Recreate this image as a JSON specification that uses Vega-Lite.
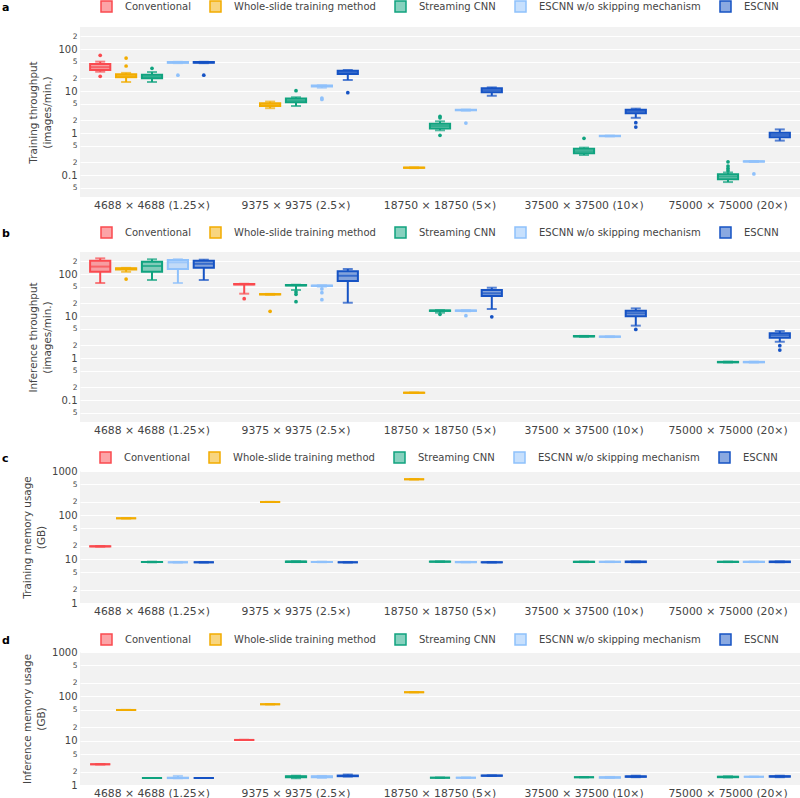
{
  "$schema": "https://vega.github.io/schema/vega-lite/v6.json",
  "padding": {"left": 2, "top": 0, "right": 0, "bottom": 0},
  "background": "white",
  "bounds": "flush",
  "spacing": 55,
  "resolve": {"scale": {"color": "shared", "stroke": "shared"}, "legend": {"color": "independent"}},
  "config": {
    "font": "DejaVu Sans",
    "view": {"fill": "#f2f2f2", "stroke": null},
    "axisX": {"labelFontSize": 10.8, "labelPadding": 2, "grid": false, "domain": false, "ticks": false, "labelColor": "#444", "labelAngle": 0, "title": null},
    "axisY": {"grid": true, "gridColor": "#ffffff", "gridWidth": 1, "domain": false, "ticks": false, "labelColor": "#444", "titleColor": "#444", "titleFontWeight": "normal", "titleFontSize": 10.4, "titlePadding": 5, "labelPadding": 3, "titleLineHeight": 14.5,
      "labelExpr": "abs(log(datum.value)/LN10 - round(log(datum.value)/LN10)) < 0.001 ? datum.value + '' : (abs(log(datum.value/2)/LN10 - round(log(datum.value/2)/LN10)) < 0.001 ? '2' : '5')",
      "labelFontSize": {"condition": {"test": "abs(log(datum.value)/LN10 - round(log(datum.value)/LN10)) < 0.001", "value": 10}, "value": 7.5}},
    "legend": {"labelFont": "DejaVu Sans", "titleFont": "DejaVu Sans"},
    "tick": {"thickness": 2},
    "rule": {"strokeWidth": 2}
  },
  "datasets": {
    "boxes": [
      {"p":"a","res":"4688 × 4688 (1.25×)","m":"Conventional","lo":28.8,"q1":31.6,"med":37,"q3":44,"hi":50},
      {"p":"a","res":"4688 × 4688 (1.25×)","m":"Whole-slide training method","lo":16.4,"q1":21.2,"med":23,"q3":25,"hi":27},
      {"p":"a","res":"4688 × 4688 (1.25×)","m":"Streaming CNN","lo":16.4,"q1":20.1,"med":22,"q3":24.4,"hi":28.3},
      {"p":"a","res":"4688 × 4688 (1.25×)","m":"ESCNN w/o skipping mechanism","lo":46,"q1":46.8,"med":48,"q3":49,"hi":49.5},
      {"p":"a","res":"4688 × 4688 (1.25×)","m":"ESCNN","lo":46,"q1":46.8,"med":48,"q3":49,"hi":49.5},
      {"p":"a","res":"9375 × 9375 (2.5×)","m":"Whole-slide training method","lo":3.9,"q1":4.4,"med":4.7,"q3":5.1,"hi":5.6},
      {"p":"a","res":"9375 × 9375 (2.5×)","m":"Streaming CNN","lo":4.4,"q1":5.4,"med":5.9,"q3":6.6,"hi":7.1},
      {"p":"a","res":"9375 × 9375 (2.5×)","m":"ESCNN w/o skipping mechanism","lo":12,"q1":12.8,"med":13.2,"q3":13.5,"hi":13.7},
      {"p":"a","res":"9375 × 9375 (2.5×)","m":"ESCNN","lo":18.3,"q1":25.4,"med":28,"q3":30.4,"hi":31.6},
      {"p":"a","res":"18750 × 18750 (5×)","m":"Whole-slide training method","lo":0.146,"q1":0.148,"med":0.149,"q3":0.151,"hi":0.152},
      {"p":"a","res":"18750 × 18750 (5×)","m":"Streaming CNN","lo":1.16,"q1":1.29,"med":1.47,"q3":1.66,"hi":1.9},
      {"p":"a","res":"18750 × 18750 (5×)","m":"ESCNN w/o skipping mechanism","lo":3.4,"q1":3.48,"med":3.53,"q3":3.58,"hi":3.62},
      {"p":"a","res":"18750 × 18750 (5×)","m":"ESCNN","lo":7.7,"q1":9.3,"med":10.5,"q3":11.7,"hi":12.2},
      {"p":"a","res":"37500 × 37500 (10×)","m":"Streaming CNN","lo":0.3,"q1":0.33,"med":0.37,"q3":0.42,"hi":0.45},
      {"p":"a","res":"37500 × 37500 (10×)","m":"ESCNN w/o skipping mechanism","lo":0.83,"q1":0.84,"med":0.85,"q3":0.86,"hi":0.87},
      {"p":"a","res":"37500 × 37500 (10×)","m":"ESCNN","lo":2.3,"q1":2.94,"med":3.3,"q3":3.6,"hi":3.8},
      {"p":"a","res":"75000 × 75000 (20×)","m":"Streaming CNN","lo":0.068,"q1":0.079,"med":0.092,"q3":0.105,"hi":0.115},
      {"p":"a","res":"75000 × 75000 (20×)","m":"ESCNN w/o skipping mechanism","lo":0.205,"q1":0.208,"med":0.211,"q3":0.213,"hi":0.215},
      {"p":"a","res":"75000 × 75000 (20×)","m":"ESCNN","lo":0.66,"q1":0.79,"med":0.9,"q3":1.02,"hi":1.22},

      {"p":"b","res":"4688 × 4688 (1.25×)","m":"Conventional","lo":61,"q1":113,"med":150,"q3":207,"hi":236},
      {"p":"b","res":"4688 × 4688 (1.25×)","m":"Whole-slide training method","lo":113,"q1":128,"med":134,"q3":137,"hi":140},
      {"p":"b","res":"4688 × 4688 (1.25×)","m":"Streaming CNN","lo":72,"q1":113,"med":155,"q3":196,"hi":224},
      {"p":"b","res":"4688 × 4688 (1.25×)","m":"ESCNN w/o skipping mechanism","lo":61,"q1":131,"med":190,"q3":215,"hi":224},
      {"p":"b","res":"4688 × 4688 (1.25×)","m":"ESCNN","lo":72,"q1":141,"med":175,"q3":207,"hi":219},
      {"p":"b","res":"9375 × 9375 (2.5×)","m":"Conventional","lo":34,"q1":56,"med":57,"q3":58,"hi":58.5},
      {"p":"b","res":"9375 × 9375 (2.5×)","m":"Whole-slide training method","lo":32,"q1":32.5,"med":33,"q3":33.3,"hi":33.6},
      {"p":"b","res":"9375 × 9375 (2.5×)","m":"Streaming CNN","lo":41.6,"q1":53,"med":54,"q3":55,"hi":55.5},
      {"p":"b","res":"9375 × 9375 (2.5×)","m":"ESCNN w/o skipping mechanism","lo":50,"q1":51.5,"med":52.5,"q3":53.5,"hi":54},
      {"p":"b","res":"9375 × 9375 (2.5×)","m":"ESCNN","lo":20.7,"q1":68,"med":91,"q3":116,"hi":131.5},
      {"p":"b","res":"18750 × 18750 (5×)","m":"Whole-slide training method","lo":0.147,"q1":0.148,"med":0.149,"q3":0.15,"hi":0.151},
      {"p":"b","res":"18750 × 18750 (5×)","m":"Streaming CNN","lo":12,"q1":13.2,"med":13.4,"q3":13.6,"hi":13.8},
      {"p":"b","res":"18750 × 18750 (5×)","m":"ESCNN w/o skipping mechanism","lo":13,"q1":13.2,"med":13.4,"q3":13.6,"hi":13.8},
      {"p":"b","res":"18750 × 18750 (5×)","m":"ESCNN","lo":14.7,"q1":29.9,"med":34.7,"q3":41.6,"hi":47.2},
      {"p":"b","res":"37500 × 37500 (10×)","m":"Streaming CNN","lo":3.2,"q1":3.25,"med":3.29,"q3":3.33,"hi":3.36},
      {"p":"b","res":"37500 × 37500 (10×)","m":"ESCNN w/o skipping mechanism","lo":3.15,"q1":3.19,"med":3.22,"q3":3.26,"hi":3.29},
      {"p":"b","res":"37500 × 37500 (10×)","m":"ESCNN","lo":5.9,"q1":9.84,"med":11.6,"q3":13.4,"hi":15.2},
      {"p":"b","res":"75000 × 75000 (20×)","m":"Streaming CNN","lo":0.78,"q1":0.79,"med":0.8,"q3":0.81,"hi":0.82},
      {"p":"b","res":"75000 × 75000 (20×)","m":"ESCNN w/o skipping mechanism","lo":0.78,"q1":0.79,"med":0.8,"q3":0.81,"hi":0.82},
      {"p":"b","res":"75000 × 75000 (20×)","m":"ESCNN","lo":2.44,"q1":3.04,"med":3.5,"q3":3.87,"hi":4.4},

      {"p":"c","res":"4688 × 4688 (1.25×)","m":"Conventional","lo":19.1,"q1":19.3,"med":19.4,"q3":19.5,"hi":19.7},
      {"p":"c","res":"4688 × 4688 (1.25×)","m":"Whole-slide training method","lo":84,"q1":84,"med":84,"q3":84,"hi":84},
      {"p":"c","res":"4688 × 4688 (1.25×)","m":"Streaming CNN","lo":8.4,"q1":8.5,"med":8.55,"q3":8.6,"hi":8.7},
      {"p":"c","res":"4688 × 4688 (1.25×)","m":"ESCNN w/o skipping mechanism","lo":8.4,"q1":8.4,"med":8.4,"q3":8.4,"hi":8.4},
      {"p":"c","res":"4688 × 4688 (1.25×)","m":"ESCNN","lo":8.4,"q1":8.4,"med":8.4,"q3":8.4,"hi":8.4},
      {"p":"c","res":"9375 × 9375 (2.5×)","m":"Whole-slide training method","lo":198,"q1":198,"med":198,"q3":198,"hi":198},
      {"p":"c","res":"9375 × 9375 (2.5×)","m":"Streaming CNN","lo":8.5,"q1":8.6,"med":8.7,"q3":8.8,"hi":8.9},
      {"p":"c","res":"9375 × 9375 (2.5×)","m":"ESCNN w/o skipping mechanism","lo":8.45,"q1":8.5,"med":8.55,"q3":8.6,"hi":8.7},
      {"p":"c","res":"9375 × 9375 (2.5×)","m":"ESCNN","lo":8.4,"q1":8.4,"med":8.4,"q3":8.4,"hi":8.4},
      {"p":"c","res":"18750 × 18750 (5×)","m":"Whole-slide training method","lo":648,"q1":648,"med":648,"q3":648,"hi":648},
      {"p":"c","res":"18750 × 18750 (5×)","m":"Streaming CNN","lo":8.6,"q1":8.65,"med":8.7,"q3":8.75,"hi":8.8},
      {"p":"c","res":"18750 × 18750 (5×)","m":"ESCNN w/o skipping mechanism","lo":8.4,"q1":8.45,"med":8.5,"q3":8.55,"hi":8.6},
      {"p":"c","res":"18750 × 18750 (5×)","m":"ESCNN","lo":8.35,"q1":8.4,"med":8.4,"q3":8.45,"hi":8.5},
      {"p":"c","res":"37500 × 37500 (10×)","m":"Streaming CNN","lo":8.5,"q1":8.55,"med":8.6,"q3":8.65,"hi":8.7},
      {"p":"c","res":"37500 × 37500 (10×)","m":"ESCNN w/o skipping mechanism","lo":8.5,"q1":8.55,"med":8.6,"q3":8.65,"hi":8.7},
      {"p":"c","res":"37500 × 37500 (10×)","m":"ESCNN","lo":8.45,"q1":8.5,"med":8.6,"q3":8.75,"hi":8.8},
      {"p":"c","res":"75000 × 75000 (20×)","m":"Streaming CNN","lo":8.5,"q1":8.55,"med":8.6,"q3":8.65,"hi":8.7},
      {"p":"c","res":"75000 × 75000 (20×)","m":"ESCNN w/o skipping mechanism","lo":8.5,"q1":8.55,"med":8.6,"q3":8.65,"hi":8.7},
      {"p":"c","res":"75000 × 75000 (20×)","m":"ESCNN","lo":8.45,"q1":8.5,"med":8.6,"q3":8.75,"hi":8.8},

      {"p":"d","res":"4688 × 4688 (1.25×)","m":"Conventional","lo":2.93,"q1":2.93,"med":2.93,"q3":2.93,"hi":2.93},
      {"p":"d","res":"4688 × 4688 (1.25×)","m":"Whole-slide training method","lo":49.3,"q1":49.3,"med":49.3,"q3":49.3,"hi":49.3},
      {"p":"d","res":"4688 × 4688 (1.25×)","m":"Streaming CNN","lo":1.44,"q1":1.44,"med":1.44,"q3":1.44,"hi":1.44},
      {"p":"d","res":"4688 × 4688 (1.25×)","m":"ESCNN w/o skipping mechanism","lo":1.42,"q1":1.43,"med":1.44,"q3":1.46,"hi":1.6},
      {"p":"d","res":"4688 × 4688 (1.25×)","m":"ESCNN","lo":1.44,"q1":1.44,"med":1.44,"q3":1.44,"hi":1.44},
      {"p":"d","res":"9375 × 9375 (2.5×)","m":"Conventional","lo":10.4,"q1":10.4,"med":10.4,"q3":10.4,"hi":10.4},
      {"p":"d","res":"9375 × 9375 (2.5×)","m":"Whole-slide training method","lo":66.3,"q1":66.3,"med":66.3,"q3":66.3,"hi":66.3},
      {"p":"d","res":"9375 × 9375 (2.5×)","m":"Streaming CNN","lo":1.42,"q1":1.5,"med":1.54,"q3":1.58,"hi":1.62},
      {"p":"d","res":"9375 × 9375 (2.5×)","m":"ESCNN w/o skipping mechanism","lo":1.45,"q1":1.5,"med":1.54,"q3":1.58,"hi":1.6},
      {"p":"d","res":"9375 × 9375 (2.5×)","m":"ESCNN","lo":1.55,"q1":1.58,"med":1.6,"q3":1.63,"hi":1.72},
      {"p":"d","res":"18750 × 18750 (5×)","m":"Whole-slide training method","lo":124,"q1":124,"med":124,"q3":124,"hi":124},
      {"p":"d","res":"18750 × 18750 (5×)","m":"Streaming CNN","lo":1.46,"q1":1.46,"med":1.46,"q3":1.46,"hi":1.46},
      {"p":"d","res":"18750 × 18750 (5×)","m":"ESCNN w/o skipping mechanism","lo":1.46,"q1":1.46,"med":1.46,"q3":1.46,"hi":1.46},
      {"p":"d","res":"18750 × 18750 (5×)","m":"ESCNN","lo":1.6,"q1":1.61,"med":1.62,"q3":1.64,"hi":1.65},
      {"p":"d","res":"37500 × 37500 (10×)","m":"Streaming CNN","lo":1.5,"q1":1.5,"med":1.5,"q3":1.5,"hi":1.5},
      {"p":"d","res":"37500 × 37500 (10×)","m":"ESCNN w/o skipping mechanism","lo":1.45,"q1":1.46,"med":1.48,"q3":1.5,"hi":1.52},
      {"p":"d","res":"37500 × 37500 (10×)","m":"ESCNN","lo":1.5,"q1":1.53,"med":1.55,"q3":1.57,"hi":1.62},
      {"p":"d","res":"75000 × 75000 (20×)","m":"Streaming CNN","lo":1.48,"q1":1.5,"med":1.52,"q3":1.54,"hi":1.57},
      {"p":"d","res":"75000 × 75000 (20×)","m":"ESCNN w/o skipping mechanism","lo":1.53,"q1":1.53,"med":1.53,"q3":1.53,"hi":1.53},
      {"p":"d","res":"75000 × 75000 (20×)","m":"ESCNN","lo":1.5,"q1":1.54,"med":1.56,"q3":1.58,"hi":1.62}
    ],
    "outliers": [
      {"p":"a","res":"4688 × 4688 (1.25×)","m":"Conventional","v":70.8},
      {"p":"a","res":"4688 × 4688 (1.25×)","m":"Conventional","v":22.4},
      {"p":"a","res":"4688 × 4688 (1.25×)","m":"Whole-slide training method","v":61},
      {"p":"a","res":"4688 × 4688 (1.25×)","m":"Whole-slide training method","v":39.4},
      {"p":"a","res":"4688 × 4688 (1.25×)","m":"Streaming CNN","v":34.7},
      {"p":"a","res":"4688 × 4688 (1.25×)","m":"ESCNN w/o skipping mechanism","v":23.8},
      {"p":"a","res":"4688 × 4688 (1.25×)","m":"ESCNN","v":23.8},
      {"p":"a","res":"9375 × 9375 (2.5×)","m":"Streaming CNN","v":10.2},
      {"p":"a","res":"9375 × 9375 (2.5×)","m":"ESCNN w/o skipping mechanism","v":6.8},
      {"p":"a","res":"9375 × 9375 (2.5×)","m":"ESCNN w/o skipping mechanism","v":6.3},
      {"p":"a","res":"9375 × 9375 (2.5×)","m":"ESCNN","v":9.1},
      {"p":"a","res":"18750 × 18750 (5×)","m":"Streaming CNN","v":2.3},
      {"p":"a","res":"18750 × 18750 (5×)","m":"Streaming CNN","v":2.5},
      {"p":"a","res":"18750 × 18750 (5×)","m":"Streaming CNN","v":0.88},
      {"p":"a","res":"18750 × 18750 (5×)","m":"ESCNN w/o skipping mechanism","v":1.73},
      {"p":"a","res":"37500 × 37500 (10×)","m":"Streaming CNN","v":0.75},
      {"p":"a","res":"37500 × 37500 (10×)","m":"ESCNN","v":1.76},
      {"p":"a","res":"37500 × 37500 (10×)","m":"ESCNN","v":1.39},
      {"p":"a","res":"75000 × 75000 (20×)","m":"Streaming CNN","v":0.207},
      {"p":"a","res":"75000 × 75000 (20×)","m":"Streaming CNN","v":0.164},
      {"p":"a","res":"75000 × 75000 (20×)","m":"Streaming CNN","v":0.144},
      {"p":"a","res":"75000 × 75000 (20×)","m":"Streaming CNN","v":0.127},
      {"p":"a","res":"75000 × 75000 (20×)","m":"ESCNN w/o skipping mechanism","v":0.106},
      {"p":"b","res":"4688 × 4688 (1.25×)","m":"Whole-slide training method","v":76},
      {"p":"b","res":"9375 × 9375 (2.5×)","m":"Conventional","v":25.8},
      {"p":"b","res":"9375 × 9375 (2.5×)","m":"Whole-slide training method","v":12.9},
      {"p":"b","res":"9375 × 9375 (2.5×)","m":"Streaming CNN","v":37.5},
      {"p":"b","res":"9375 × 9375 (2.5×)","m":"Streaming CNN","v":32.9},
      {"p":"b","res":"9375 × 9375 (2.5×)","m":"Streaming CNN","v":21.9},
      {"p":"b","res":"9375 × 9375 (2.5×)","m":"ESCNN w/o skipping mechanism","v":44},
      {"p":"b","res":"9375 × 9375 (2.5×)","m":"ESCNN w/o skipping mechanism","v":35.9},
      {"p":"b","res":"9375 × 9375 (2.5×)","m":"ESCNN w/o skipping mechanism","v":24.4},
      {"p":"b","res":"18750 × 18750 (5×)","m":"Streaming CNN","v":11},
      {"p":"b","res":"18750 × 18750 (5×)","m":"ESCNN w/o skipping mechanism","v":10.2},
      {"p":"b","res":"18750 × 18750 (5×)","m":"ESCNN","v":9.6},
      {"p":"b","res":"37500 × 37500 (10×)","m":"ESCNN","v":4.8},
      {"p":"b","res":"75000 × 75000 (20×)","m":"ESCNN","v":1.96},
      {"p":"b","res":"75000 × 75000 (20×)","m":"ESCNN","v":1.55}
    ]
  },
  "vconcat": [
    {
      "width": 720, "height": 170,
      "encoding": {
        "x": {"field": "res", "type": "nominal", "sort": null, "scale": {"domain": ["4688 × 4688 (1.25×)", "9375 × 9375 (2.5×)", "18750 × 18750 (5×)", "37500 × 37500 (10×)", "75000 × 75000 (20×)"], "paddingInner": 0, "paddingOuter": 0}, "title": null},
        "xOffset": {"field": "m", "type": "nominal", "scale": {"domain": ["Conventional", "Whole-slide training method", "Streaming CNN", "ESCNN w/o skipping mechanism", "ESCNN"], "paddingInner": 0.22, "paddingOuter": 0.39}},
        "color": {"field": "m", "type": "nominal", "scale": {"domain": ["Conventional", "Whole-slide training method", "Streaming CNN", "ESCNN w/o skipping mechanism", "ESCNN"], "range": ["#FA4A4F", "#F2AC00", "#10A37F", "#8FC1FB", "#1653C4"]},
          "legend": {"orient": "none", "legendX": -78, "legendY": -27, "direction": "horizontal", "columns": 5, "title": "a", "titleOrient": "left", "titleFontSize": 11, "titleFontWeight": "bold", "titleColor": "#000", "titlePadding": 90, "symbolType": "square", "symbolSize": 121, "symbolStrokeWidth": 1.5, "labelFontSize": 10, "labelLimit": 400, "labelColor": "#444", "labelOffset": 12, "columnPadding": 16,
            "encode": {"symbols": {"update": {"fillOpacity": {"value": 0.5}, "stroke": {"scale": "color", "field": "value"}, "strokeWidth": {"value": 1.5}}}}}}
      },
      "layer": [
        {"data": {"name": "boxes"}, "transform": [{"filter": "datum.p === 'a'"}], "mark": "rule",
          "encoding": {"y": {"field": "lo", "type": "quantitative", "scale": {"type": "log", "domain": [0.03, 334], "nice": false}, "title": ["Training throughput", "(images/min.)"], "axis": {"values": [0.05, 0.1, 0.2, 0.5, 1, 2, 5, 10, 20, 50, 100, 200]}}, "y2": {"field": "q1"}}},
        {"data": {"name": "boxes"}, "transform": [{"filter": "datum.p === 'a'"}], "mark": "rule",
          "encoding": {"y": {"field": "q3", "type": "quantitative", "scale": {"type": "log", "domain": [0.03, 334], "nice": false}, "title": ["Training throughput", "(images/min.)"], "axis": {"values": [0.05, 0.1, 0.2, 0.5, 1, 2, 5, 10, 20, 50, 100, 200]}}, "y2": {"field": "hi"}}},
        {"data": {"name": "boxes"}, "transform": [{"filter": "datum.p === 'a'"}], "mark": {"type": "bar", "fillOpacity": 0.5, "strokeWidth": 2},
          "encoding": {"y": {"field": "q1", "type": "quantitative", "scale": {"type": "log", "domain": [0.03, 334], "nice": false}, "title": ["Training throughput", "(images/min.)"], "axis": {"values": [0.05, 0.1, 0.2, 0.5, 1, 2, 5, 10, 20, 50, 100, 200]}}, "y2": {"field": "q3"},
            "stroke": {"field": "m", "type": "nominal", "scale": {"domain": ["Conventional", "Whole-slide training method", "Streaming CNN", "ESCNN w/o skipping mechanism", "ESCNN"], "range": ["#FA4A4F", "#F2AC00", "#10A37F", "#8FC1FB", "#1653C4"]}, "legend": null}}},
        {"data": {"name": "boxes"}, "transform": [{"filter": "datum.p === 'a'"}], "mark": {"type": "tick", "size": 20},
          "encoding": {"y": {"field": "med", "type": "quantitative", "scale": {"type": "log", "domain": [0.03, 334], "nice": false}, "title": ["Training throughput", "(images/min.)"], "axis": {"values": [0.05, 0.1, 0.2, 0.5, 1, 2, 5, 10, 20, 50, 100, 200]}}}},
        {"data": {"name": "boxes"}, "transform": [{"filter": "datum.p === 'a'"}], "mark": {"type": "tick", "size": 10},
          "encoding": {"y": {"field": "lo", "type": "quantitative", "scale": {"type": "log", "domain": [0.03, 334], "nice": false}, "title": ["Training throughput", "(images/min.)"], "axis": {"values": [0.05, 0.1, 0.2, 0.5, 1, 2, 5, 10, 20, 50, 100, 200]}}}},
        {"data": {"name": "boxes"}, "transform": [{"filter": "datum.p === 'a'"}], "mark": {"type": "tick", "size": 10},
          "encoding": {"y": {"field": "hi", "type": "quantitative", "scale": {"type": "log", "domain": [0.03, 334], "nice": false}, "title": ["Training throughput", "(images/min.)"], "axis": {"values": [0.05, 0.1, 0.2, 0.5, 1, 2, 5, 10, 20, 50, 100, 200]}}}},
        {"data": {"name": "outliers"}, "transform": [{"filter": "datum.p === 'a'"}], "mark": {"type": "circle", "size": 14, "opacity": 1},
          "encoding": {"y": {"field": "v", "type": "quantitative", "scale": {"type": "log", "domain": [0.03, 334], "nice": false}, "title": ["Training throughput", "(images/min.)"], "axis": {"values": [0.05, 0.1, 0.2, 0.5, 1, 2, 5, 10, 20, 50, 100, 200]}}}}
      ]
    },
    {
      "bounds": "flush",
      "spacing": 49,
      "resolve": {"scale": {"color": "shared", "stroke": "shared"}, "legend": {"color": "independent"}},
      "vconcat": [
        {
          "width": 720, "height": 170,
          "encoding": {
            "x": {"field": "res", "type": "nominal", "sort": null, "scale": {"domain": ["4688 × 4688 (1.25×)", "9375 × 9375 (2.5×)", "18750 × 18750 (5×)", "37500 × 37500 (10×)", "75000 × 75000 (20×)"], "paddingInner": 0, "paddingOuter": 0}, "title": null},
            "xOffset": {"field": "m", "type": "nominal", "scale": {"domain": ["Conventional", "Whole-slide training method", "Streaming CNN", "ESCNN w/o skipping mechanism", "ESCNN"], "paddingInner": 0.22, "paddingOuter": 0.39}},
            "color": {"field": "m", "type": "nominal", "scale": {"domain": ["Conventional", "Whole-slide training method", "Streaming CNN", "ESCNN w/o skipping mechanism", "ESCNN"], "range": ["#FA4A4F", "#F2AC00", "#10A37F", "#8FC1FB", "#1653C4"]},
              "legend": {"orient": "none", "legendX": -78, "legendY": -26, "direction": "horizontal", "columns": 5, "title": "b", "titleOrient": "left", "titleFontSize": 11, "titleFontWeight": "bold", "titleColor": "#000", "titlePadding": 90, "symbolType": "square", "symbolSize": 121, "symbolStrokeWidth": 1.5, "labelFontSize": 10, "labelLimit": 400, "labelColor": "#444", "labelOffset": 12, "columnPadding": 16,
                "encode": {"symbols": {"update": {"fillOpacity": {"value": 0.5}, "stroke": {"scale": "color", "field": "value"}, "strokeWidth": {"value": 1.5}}}}}}
          },
          "layer": [
            {"data": {"name": "boxes"}, "transform": [{"filter": "datum.p === 'b'"}], "mark": "rule",
              "encoding": {"y": {"field": "lo", "type": "quantitative", "scale": {"type": "log", "domain": [0.03, 334], "nice": false}, "title": ["Inference throughput", "(images/min.)"], "axis": {"values": [0.05, 0.1, 0.2, 0.5, 1, 2, 5, 10, 20, 50, 100, 200]}}, "y2": {"field": "q1"}}},
            {"data": {"name": "boxes"}, "transform": [{"filter": "datum.p === 'b'"}], "mark": "rule",
              "encoding": {"y": {"field": "q3", "type": "quantitative", "scale": {"type": "log", "domain": [0.03, 334], "nice": false}, "title": ["Inference throughput", "(images/min.)"], "axis": {"values": [0.05, 0.1, 0.2, 0.5, 1, 2, 5, 10, 20, 50, 100, 200]}}, "y2": {"field": "hi"}}},
            {"data": {"name": "boxes"}, "transform": [{"filter": "datum.p === 'b'"}], "mark": {"type": "bar", "fillOpacity": 0.5, "strokeWidth": 2},
              "encoding": {"y": {"field": "q1", "type": "quantitative", "scale": {"type": "log", "domain": [0.03, 334], "nice": false}, "title": ["Inference throughput", "(images/min.)"], "axis": {"values": [0.05, 0.1, 0.2, 0.5, 1, 2, 5, 10, 20, 50, 100, 200]}}, "y2": {"field": "q3"},
                "stroke": {"field": "m", "type": "nominal", "scale": {"domain": ["Conventional", "Whole-slide training method", "Streaming CNN", "ESCNN w/o skipping mechanism", "ESCNN"], "range": ["#FA4A4F", "#F2AC00", "#10A37F", "#8FC1FB", "#1653C4"]}, "legend": null}}},
            {"data": {"name": "boxes"}, "transform": [{"filter": "datum.p === 'b'"}], "mark": {"type": "tick", "size": 20},
              "encoding": {"y": {"field": "med", "type": "quantitative", "scale": {"type": "log", "domain": [0.03, 334], "nice": false}, "title": ["Inference throughput", "(images/min.)"], "axis": {"values": [0.05, 0.1, 0.2, 0.5, 1, 2, 5, 10, 20, 50, 100, 200]}}}},
            {"data": {"name": "boxes"}, "transform": [{"filter": "datum.p === 'b'"}], "mark": {"type": "tick", "size": 10},
              "encoding": {"y": {"field": "lo", "type": "quantitative", "scale": {"type": "log", "domain": [0.03, 334], "nice": false}, "title": ["Inference throughput", "(images/min.)"], "axis": {"values": [0.05, 0.1, 0.2, 0.5, 1, 2, 5, 10, 20, 50, 100, 200]}}}},
            {"data": {"name": "boxes"}, "transform": [{"filter": "datum.p === 'b'"}], "mark": {"type": "tick", "size": 10},
              "encoding": {"y": {"field": "hi", "type": "quantitative", "scale": {"type": "log", "domain": [0.03, 334], "nice": false}, "title": ["Inference throughput", "(images/min.)"], "axis": {"values": [0.05, 0.1, 0.2, 0.5, 1, 2, 5, 10, 20, 50, 100, 200]}}}},
            {"data": {"name": "outliers"}, "transform": [{"filter": "datum.p === 'b'"}], "mark": {"type": "circle", "size": 14, "opacity": 1},
              "encoding": {"y": {"field": "v", "type": "quantitative", "scale": {"type": "log", "domain": [0.03, 334], "nice": false}, "title": ["Inference throughput", "(images/min.)"], "axis": {"values": [0.05, 0.1, 0.2, 0.5, 1, 2, 5, 10, 20, 50, 100, 200]}}}}
          ]
        },
        {
          "width": 720, "height": 132,
          "encoding": {
            "x": {"field": "res", "type": "nominal", "sort": null, "scale": {"domain": ["4688 × 4688 (1.25×)", "9375 × 9375 (2.5×)", "18750 × 18750 (5×)", "37500 × 37500 (10×)", "75000 × 75000 (20×)"], "paddingInner": 0, "paddingOuter": 0}, "title": null},
            "xOffset": {"field": "m", "type": "nominal", "scale": {"domain": ["Conventional", "Whole-slide training method", "Streaming CNN", "ESCNN w/o skipping mechanism", "ESCNN"], "paddingInner": 0.22, "paddingOuter": 0.39}},
            "color": {"field": "m", "type": "nominal", "scale": {"domain": ["Conventional", "Whole-slide training method", "Streaming CNN", "ESCNN w/o skipping mechanism", "ESCNN"], "range": ["#FA4A4F", "#F2AC00", "#10A37F", "#8FC1FB", "#1653C4"]},
              "legend": {"orient": "none", "legendX": -78, "legendY": -20, "direction": "horizontal", "columns": 5, "title": "c", "titleOrient": "left", "titleFontSize": 11, "titleFontWeight": "bold", "titleColor": "#000", "titlePadding": 90, "symbolType": "square", "symbolSize": 121, "symbolStrokeWidth": 1.5, "labelFontSize": 10, "labelLimit": 400, "labelColor": "#444", "labelOffset": 12, "columnPadding": 16,
                "encode": {"symbols": {"update": {"fillOpacity": {"value": 0.5}, "stroke": {"scale": "color", "field": "value"}, "strokeWidth": {"value": 1.5}}}}}}
          },
          "layer": [
            {"data": {"name": "boxes"}, "transform": [{"filter": "datum.p === 'c'"}], "mark": "rule",
              "encoding": {"y": {"field": "lo", "type": "quantitative", "scale": {"type": "log", "domain": [1, 1000], "nice": false}, "title": ["Training memory usage", "(GB)"], "axis": {"values": [1, 2, 5, 10, 20, 50, 100, 200, 500, 1000]}}, "y2": {"field": "q1"}}},
            {"data": {"name": "boxes"}, "transform": [{"filter": "datum.p === 'c'"}], "mark": "rule",
              "encoding": {"y": {"field": "q3", "type": "quantitative", "scale": {"type": "log", "domain": [1, 1000], "nice": false}, "title": ["Training memory usage", "(GB)"], "axis": {"values": [1, 2, 5, 10, 20, 50, 100, 200, 500, 1000]}}, "y2": {"field": "hi"}}},
            {"data": {"name": "boxes"}, "transform": [{"filter": "datum.p === 'c'"}], "mark": {"type": "bar", "fillOpacity": 0.5, "strokeWidth": 2},
              "encoding": {"y": {"field": "q1", "type": "quantitative", "scale": {"type": "log", "domain": [1, 1000], "nice": false}, "title": ["Training memory usage", "(GB)"], "axis": {"values": [1, 2, 5, 10, 20, 50, 100, 200, 500, 1000]}}, "y2": {"field": "q3"},
                "stroke": {"field": "m", "type": "nominal", "scale": {"domain": ["Conventional", "Whole-slide training method", "Streaming CNN", "ESCNN w/o skipping mechanism", "ESCNN"], "range": ["#FA4A4F", "#F2AC00", "#10A37F", "#8FC1FB", "#1653C4"]}, "legend": null}}},
            {"data": {"name": "boxes"}, "transform": [{"filter": "datum.p === 'c'"}], "mark": {"type": "tick", "size": 20},
              "encoding": {"y": {"field": "med", "type": "quantitative", "scale": {"type": "log", "domain": [1, 1000], "nice": false}, "title": ["Training memory usage", "(GB)"], "axis": {"values": [1, 2, 5, 10, 20, 50, 100, 200, 500, 1000]}}}},
            {"data": {"name": "boxes"}, "transform": [{"filter": "datum.p === 'c'"}], "mark": {"type": "tick", "size": 10},
              "encoding": {"y": {"field": "lo", "type": "quantitative", "scale": {"type": "log", "domain": [1, 1000], "nice": false}, "title": ["Training memory usage", "(GB)"], "axis": {"values": [1, 2, 5, 10, 20, 50, 100, 200, 500, 1000]}}}},
            {"data": {"name": "boxes"}, "transform": [{"filter": "datum.p === 'c'"}], "mark": {"type": "tick", "size": 10},
              "encoding": {"y": {"field": "hi", "type": "quantitative", "scale": {"type": "log", "domain": [1, 1000], "nice": false}, "title": ["Training memory usage", "(GB)"], "axis": {"values": [1, 2, 5, 10, 20, 50, 100, 200, 500, 1000]}}}}
          ]
        },
        {
          "width": 720, "height": 133,
          "encoding": {
            "x": {"field": "res", "type": "nominal", "sort": null, "scale": {"domain": ["4688 × 4688 (1.25×)", "9375 × 9375 (2.5×)", "18750 × 18750 (5×)", "37500 × 37500 (10×)", "75000 × 75000 (20×)"], "paddingInner": 0, "paddingOuter": 0}, "title": null},
            "xOffset": {"field": "m", "type": "nominal", "scale": {"domain": ["Conventional", "Whole-slide training method", "Streaming CNN", "ESCNN w/o skipping mechanism", "ESCNN"], "paddingInner": 0.22, "paddingOuter": 0.39}},
            "color": {"field": "m", "type": "nominal", "scale": {"domain": ["Conventional", "Whole-slide training method", "Streaming CNN", "ESCNN w/o skipping mechanism", "ESCNN"], "range": ["#FA4A4F", "#F2AC00", "#10A37F", "#8FC1FB", "#1653C4"]},
              "legend": {"orient": "none", "legendX": -78, "legendY": -19, "direction": "horizontal", "columns": 5, "title": "d", "titleOrient": "left", "titleFontSize": 11, "titleFontWeight": "bold", "titleColor": "#000", "titlePadding": 90, "symbolType": "square", "symbolSize": 121, "symbolStrokeWidth": 1.5, "labelFontSize": 10, "labelLimit": 400, "labelColor": "#444", "labelOffset": 12, "columnPadding": 16,
                "encode": {"symbols": {"update": {"fillOpacity": {"value": 0.5}, "stroke": {"scale": "color", "field": "value"}, "strokeWidth": {"value": 1.5}}}}}}
          },
          "layer": [
            {"data": {"name": "boxes"}, "transform": [{"filter": "datum.p === 'd'"}], "mark": "rule",
              "encoding": {"y": {"field": "lo", "type": "quantitative", "scale": {"type": "log", "domain": [1, 1000], "nice": false}, "title": ["Inference memory usage", "(GB)"], "axis": {"values": [1, 2, 5, 10, 20, 50, 100, 200, 500, 1000]}}, "y2": {"field": "q1"}}},
            {"data": {"name": "boxes"}, "transform": [{"filter": "datum.p === 'd'"}], "mark": "rule",
              "encoding": {"y": {"field": "q3", "type": "quantitative", "scale": {"type": "log", "domain": [1, 1000], "nice": false}, "title": ["Inference memory usage", "(GB)"], "axis": {"values": [1, 2, 5, 10, 20, 50, 100, 200, 500, 1000]}}, "y2": {"field": "hi"}}},
            {"data": {"name": "boxes"}, "transform": [{"filter": "datum.p === 'd'"}], "mark": {"type": "bar", "fillOpacity": 0.5, "strokeWidth": 2},
              "encoding": {"y": {"field": "q1", "type": "quantitative", "scale": {"type": "log", "domain": [1, 1000], "nice": false}, "title": ["Inference memory usage", "(GB)"], "axis": {"values": [1, 2, 5, 10, 20, 50, 100, 200, 500, 1000]}}, "y2": {"field": "q3"},
                "stroke": {"field": "m", "type": "nominal", "scale": {"domain": ["Conventional", "Whole-slide training method", "Streaming CNN", "ESCNN w/o skipping mechanism", "ESCNN"], "range": ["#FA4A4F", "#F2AC00", "#10A37F", "#8FC1FB", "#1653C4"]}, "legend": null}}},
            {"data": {"name": "boxes"}, "transform": [{"filter": "datum.p === 'd'"}], "mark": {"type": "tick", "size": 20},
              "encoding": {"y": {"field": "med", "type": "quantitative", "scale": {"type": "log", "domain": [1, 1000], "nice": false}, "title": ["Inference memory usage", "(GB)"], "axis": {"values": [1, 2, 5, 10, 20, 50, 100, 200, 500, 1000]}}}},
            {"data": {"name": "boxes"}, "transform": [{"filter": "datum.p === 'd'"}], "mark": {"type": "tick", "size": 10},
              "encoding": {"y": {"field": "lo", "type": "quantitative", "scale": {"type": "log", "domain": [1, 1000], "nice": false}, "title": ["Inference memory usage", "(GB)"], "axis": {"values": [1, 2, 5, 10, 20, 50, 100, 200, 500, 1000]}}}},
            {"data": {"name": "boxes"}, "transform": [{"filter": "datum.p === 'd'"}], "mark": {"type": "tick", "size": 10},
              "encoding": {"y": {"field": "hi", "type": "quantitative", "scale": {"type": "log", "domain": [1, 1000], "nice": false}, "title": ["Inference memory usage", "(GB)"], "axis": {"values": [1, 2, 5, 10, 20, 50, 100, 200, 500, 1000]}}}}
          ]
        }
      ]
    }
  ]
}
